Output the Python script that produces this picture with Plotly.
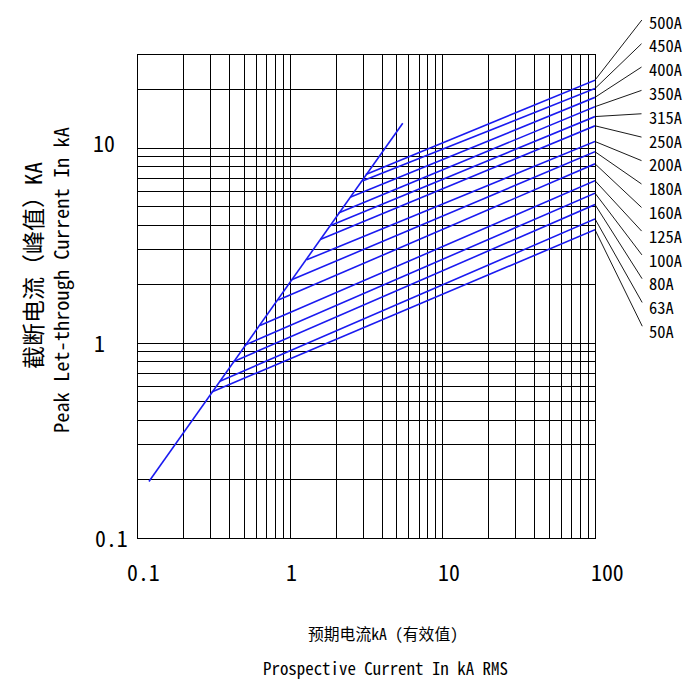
import math
import plotly.graph_objects as go

# ---------------- data ----------------
ratings = ["500A", "450A", "400A", "350A", "315A", "250A", "200A",
           "180A", "160A", "125A", "100A", "80A", "63A", "50A"]
# knee point where each rating line leaves the cut-off line (kA rms, kA peak)
knee_x = [3.13, 2.97, 2.47, 2.07, 1.82, 1.57, 1.28, 1.02, 0.834, 0.632, 0.504, 0.422, 0.345, 0.305]
knee_y = [7.31, 6.78, 5.59, 4.64, 3.99, 3.40, 2.67, 2.11, 1.66, 1.23, 0.976, 0.802, 0.637, 0.561]
end_x = 100
end_y = [22.3, 20.2, 18.2, 16.3, 14.5, 13.0, 10.8, 9.57, 8.3, 6.8, 5.87, 5.13, 4.33, 3.81]
# prospective (unlimited) cut-off line
cutoff_x = [0.118, 5.47]
cutoff_y = [0.195, 13.4]

x_ticks = [0.1, 1, 10, 100]
x_tick_text = ["0.1", "1", "10", "100"]
y_ticks = [0.1, 1, 10]
y_tick_text = ["0.1", "1", "10"]

# ---------------- styles / layout ----------------
PAGE_OFF = 8                      # default body margin of the html page
W, H = 696 - PAGE_OFF, 684 - PAGE_OFF
PLOT_LEFT, PLOT_TOP, PLOT_RIGHT, PLOT_BOTTOM = 138, 55, 595, 538.3
L = PLOT_LEFT - PAGE_OFF
T = PLOT_TOP - PAGE_OFF
R = W + PAGE_OFF - PLOT_RIGHT
B = H + PAGE_OFF - PLOT_BOTTOM
PLOT_H = PLOT_BOTTOM - PLOT_TOP
Y_TOP = 30
PX_PER_DEC = PLOT_H / (math.log10(Y_TOP) + 1)
BLUE = "#1a1af0"
FONT = "Noto Sans Mono CJK SC, Liberation Mono, monospace"
CJK = "Noto Sans Mono CJK SC, Noto Sans CJK SC, sans-serif"

x_tick_shift = [5, 1, 6, 12]
y_tick_xshift = [-27, -39, -34]
y_tick_yshift = [1, 1, 6]

fig = go.Figure()

fig.add_trace(go.Scatter(x=cutoff_x, y=cutoff_y, mode="lines",
                         line=dict(color=BLUE, width=1.6), hoverinfo="skip"))
for name, kx, ky, ey in zip(ratings, knee_x, knee_y, end_y):
    fig.add_trace(go.Scatter(x=[kx, end_x], y=[ky, ey], mode="lines", name=name,
                             line=dict(color=BLUE, width=1.6), hoverinfo="skip"))

axis_common = dict(type="log", dtick="D1", showgrid=True, gridcolor="black", gridwidth=1,
                   showticklabels=False, ticks="", showline=True, linecolor="black",
                   linewidth=1, mirror=True, zeroline=False)
fig.update_xaxes(range=[-1, 2], **axis_common)
fig.update_yaxes(range=[-1, math.log10(Y_TOP)], **axis_common)

ann = []
for v, t, xs in zip(x_ticks, x_tick_text, x_tick_shift):
    ann.append(dict(text=t, xref="x", x=math.log10(v), yref="paper", y=0,
                    xshift=xs, yshift=-33.5, showarrow=False, xanchor="center",
                    yanchor="middle", font=dict(family=FONT, size=21.8, color="black")))
for v, t, xs, ys in zip(y_ticks, y_tick_text, y_tick_xshift, y_tick_yshift):
    ann.append(dict(text=t, xref="paper", x=0, yref="y", y=math.log10(v),
                    xshift=xs, yshift=ys, showarrow=False, xanchor="center",
                    yanchor="middle", font=dict(family=FONT, size=21.8, color="black")))

LABEL_TOP_PX, LABEL_STEP = 21.5, 23.8
for i, (name, ey) in enumerate(zip(ratings, end_y)):
    py = LABEL_TOP_PX + LABEL_STEP * i
    ann.append(dict(text=name, xref="paper", x=1, xshift=51.5, xanchor="left",
                    yref="paper", y=1, yshift=PLOT_TOP - py, yanchor="middle", showarrow=False,
                    font=dict(family=FONT, size=16.5, color="black")))
    lead_py = py - 3
    ann.append(dict(text="", xref="x", x=math.log10(end_x), yref="y", y=math.log10(ey),
                    axref="pixel", ax=48, ayref="y",
                    ay=math.log10(Y_TOP) + (PLOT_TOP - lead_py) / PX_PER_DEC,
                    showarrow=True, arrowhead=0, arrowwidth=0.9, arrowcolor="black",
                    standoff=0, startstandoff=0, font=dict(size=1)))

ann.append(dict(text="截断电流（峰值）KA", textangle=-90, xref="paper", x=0, xshift=32 - PLOT_LEFT,
                yref="paper", y=1, yshift=PLOT_TOP - 266, xanchor="center", yanchor="middle",
                showarrow=False, font=dict(family=CJK, size=23, color="black")))
ann.append(dict(text="Peak Let-through Current In kA", textangle=-90, xref="paper", x=0,
                xshift=60 - PLOT_LEFT, yref="paper", y=1, yshift=PLOT_TOP - 280, xanchor="center",
                yanchor="middle", showarrow=False, font=dict(family=FONT, size=20.4, color="black")))
ann.append(dict(text="预期电流kA (有效值)", xref="paper", x=0, xshift=383 - PLOT_LEFT,
                yref="paper", y=0, yshift=-(634 - PLOT_BOTTOM), xanchor="center", yanchor="middle",
                showarrow=False, font=dict(family=CJK, size=15.8, color="black")))
ann.append(dict(text="Prospective Current In kA RMS", xref="paper", x=0, xshift=385.5 - PLOT_LEFT,
                yref="paper", y=0, yshift=-(668 - PLOT_BOTTOM), xanchor="center", yanchor="middle",
                showarrow=False, font=dict(family=FONT, size=16.9, color="black")))

fig.update_layout(width=W, height=H, margin=dict(l=L, r=R, t=T, b=B, pad=0),
                  plot_bgcolor="white", paper_bgcolor="white", showlegend=False,
                  annotations=ann)

fig.write_html("out.html")
